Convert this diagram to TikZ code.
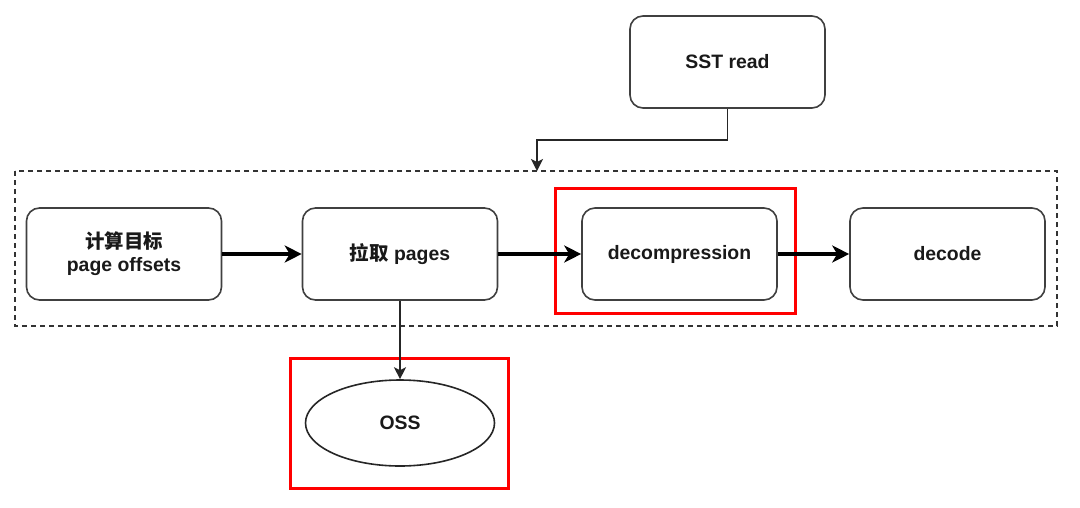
\documentclass[tikz,border=0pt]{standalone}
\usepackage{fontspec}
\setmainfont{Liberation Sans}
\newfontfamily\cjk{Noto Sans CJK SC}
\usetikzlibrary{arrows.meta,shapes.geometric}
\begin{document}
\begin{tikzpicture}[x=1pt,y=-1pt,
  procbox/.style={draw=black!75,line width=1.6pt,rounded corners=13pt,minimum width=195pt,minimum height=92pt,align=center,font=\fontsize{19.4}{23}\selectfont\bfseries,text=black!90,inner sep=0pt},
  thickarrow/.style={line width=3.2pt,-{Stealth[length=17pt,width=17pt,inset=5pt]}},
  thinarrow/.style={line width=1.6pt,draw=black!85,-{Stealth[length=12pt,width=12pt,inset=3pt]}},
  redframe/.style={draw=red,line width=3pt},
  dashframe/.style={draw=black!80,line width=1.5pt,dash pattern=on 5pt off 4pt}]
\useasboundingbox (0,0) rectangle (1080,507);
\fill[white] (0,0) rectangle (1080,507);
% dashed container
\draw[dashframe] (15,171) rectangle (1057,326);
\coordinate (dtop) at (537,171);
% red frames
\draw[redframe] (555,188) rectangle (795,313);
\draw[redframe] (290,358) rectangle (508,488);
% nodes
\node[procbox] (sst) at (727.5,62) {SST read};
\node[procbox] (calc) at (124,254) {{\cjk\bfseries 计算目标}\\page offsets};
\node[procbox] (fetch) at (400,254) {{\cjk\bfseries 拉取} pages};
\node[procbox] (dec) at (679.5,254) {decompression};
\node[procbox] (decode) at (947.5,254) {decode};
\node[ellipse,draw=black!85,line width=1.6pt,minimum width=189pt,minimum height=86pt,inner sep=0pt,font=\fontsize{19.4}{23}\selectfont\bfseries,text=black!90] (oss) at (400,423) {OSS};
% connectors
\draw[thinarrow] (sst.south) |- (537,140) -- (dtop);
\draw[thickarrow] (calc.east) -- (fetch.west);
\draw[thickarrow] (fetch.east) -- (dec.west);
\draw[thickarrow] (dec.east) -- (decode.west);
\draw[thinarrow] (fetch.south) -- (oss.north);
\end{tikzpicture}
\end{document}
